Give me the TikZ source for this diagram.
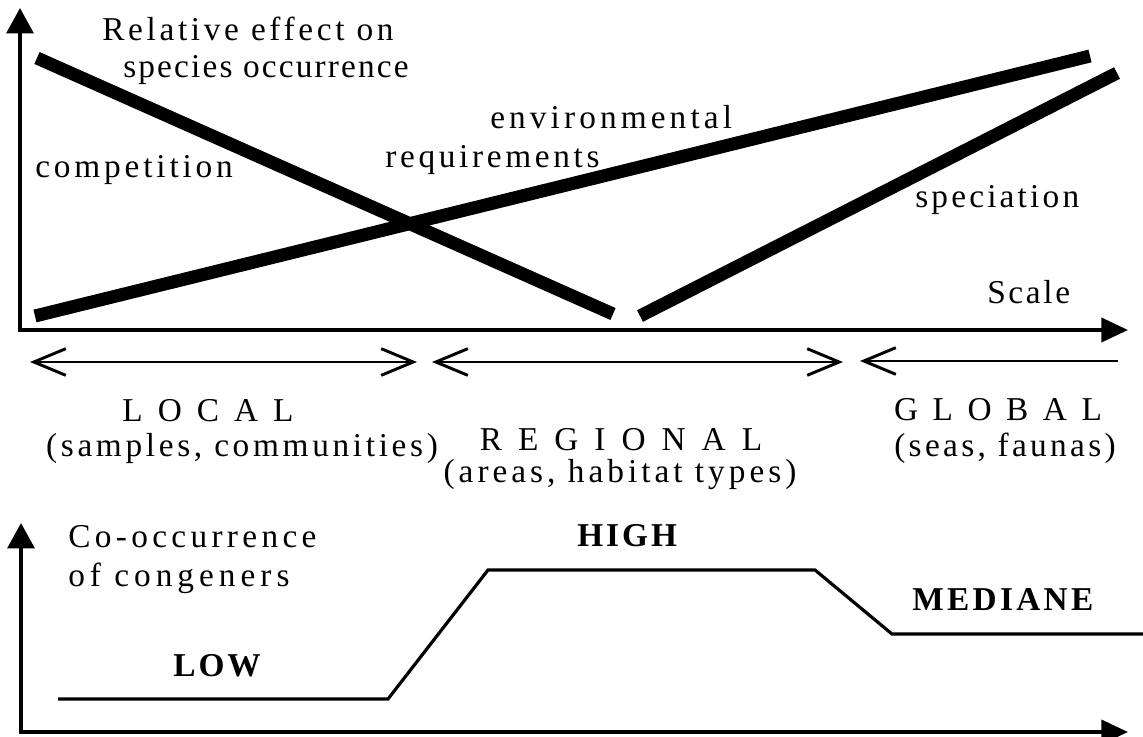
\documentclass[tikz,border=0pt]{standalone}
\usepackage{fontspec}
\setmainfont{Liberation Serif}
\usetikzlibrary{arrows.meta}
\newcommand{\lsp}[2]{{\addfontfeature{LetterSpace=#1}#2}}
\begin{document}
\begin{tikzpicture}[x=0.75pt,y=-0.75pt,
  myaxis/.style={line width=3pt,line join=miter,{Triangle[length=19pt,width=20pt]}-{Triangle[length=20pt,width=18pt]}},
  thickln/.style={line width=9.75pt,line cap=butt},
  rangearr/.style={line width=2.2pt,{Straight Barb[length=24pt,width=20pt,line width=2.2pt]}-{Straight Barb[length=24pt,width=20pt,line width=2.2pt]}},
  rangeleftarr/.style={line width=2.2pt,{Straight Barb[length=24pt,width=20pt,line width=2.2pt]}-},
  curveln/.style={line width=2.4pt,line join=miter},
  toplab/.style={inner sep=0pt,anchor=base west,font=\fontsize{25}{30}\selectfont},
  lowlab/.style={inner sep=0pt,anchor=base,font=\fontsize{25}{30}\selectfont},
  boldlab/.style={inner sep=0pt,anchor=base west,font=\fontsize{25}{30}\selectfont\bfseries}]
\useasboundingbox[fill=white] (0,0) rectangle (1143,736);
% ---- top graph axes
\coordinate (ytop) at (20,8);
\coordinate (origin) at (20,330);
\coordinate (xend) at (1128,330);
\draw[myaxis] (ytop) -- (origin) -- (xend);
% ---- thick lines
\coordinate (c1) at (37,58);   \coordinate (c2) at (613,314);
\coordinate (e1) at (35,316);  \coordinate (e2) at (1090,56);
\coordinate (s1) at (640,316); \coordinate (s2) at (1117,73);
\draw[thickln] (c1) -- (c2);
\draw[thickln] (e1) -- (e2);
\draw[thickln] (s1) -- (s2);
% ---- top labels
\node[toplab] (rel) at (102,40) {\lsp{11}{Relative effect on}};
\node[toplab] (spo) at (123,77) {\lsp{6.5}{species occurrence}};
\node[toplab] (comp) at (35,177) {\lsp{11.5}{competition}};
\node[toplab] (env) at (490,128) {\lsp{12.3}{environmental}};
\node[toplab] (req) at (385,167) {\lsp{11}{requirements}};
\node[toplab] (spec) at (915,207) {\lsp{9.6}{speciation}};
\node[toplab] (scale) at (987,303) {\lsp{8}{Scale}};
% ---- ranges
\coordinate (l1) at (30,362);  \coordinate (l2) at (417,362);
\coordinate (r1) at (432,362); \coordinate (r2) at (843,362);
\coordinate (g1) at (860,361); \coordinate (g2) at (1118,361);
\draw[rangearr] (l1) -- (l2);
\draw[rangearr] (r1) -- (r2);
\draw[rangeleftarr] (g1) -- (g2);
\node[lowlab] (local) at (208,421) {\lsp{20}{L O C A L}};
\node[lowlab] (localsub) at (242,456) {\lsp{11}{(samples, communities)}};
\node[lowlab] (regional) at (621,450) {\lsp{23}{R E G I O N A L}};
\node[lowlab] (regsub) at (620,482) {\lsp{12}{(areas, habitat types)}};
\node[lowlab] (global) at (998,420) {\lsp{18.6}{G L O B A L}};
\node[lowlab] (globsub) at (1005,456) {\lsp{10}{(seas, faunas)}};
% ---- bottom graph
\coordinate (ytop2) at (21,523);
\coordinate (origin2) at (21,732);
\coordinate (xend2) at (1128,732);
\draw[myaxis] (ytop2) -- (origin2) -- (xend2);
\coordinate (p1) at (58,699);
\coordinate (p2) at (388,699);
\coordinate (p3) at (488,570);
\coordinate (p4) at (815,570);
\coordinate (p5) at (892,634);
\coordinate (p6) at (1143,634);
\draw[curveln] (p1) -- (p2) -- (p3) -- (p4) -- (p5) -- (p6);
\node[toplab] (cooc) at (68,547) {\lsp{13}{Co-occurrence}};
\node[toplab] (cong) at (68,586) {\lsp{15}{of congeners}};
\node[boldlab] (low) at (173,676) {\lsp{9}{LOW}};
\node[boldlab] (high) at (577,546) {\lsp{9}{HIGH}};
\node[boldlab] (med) at (912,610) {\lsp{10}{MEDIANE}};
\end{tikzpicture}
\end{document}
